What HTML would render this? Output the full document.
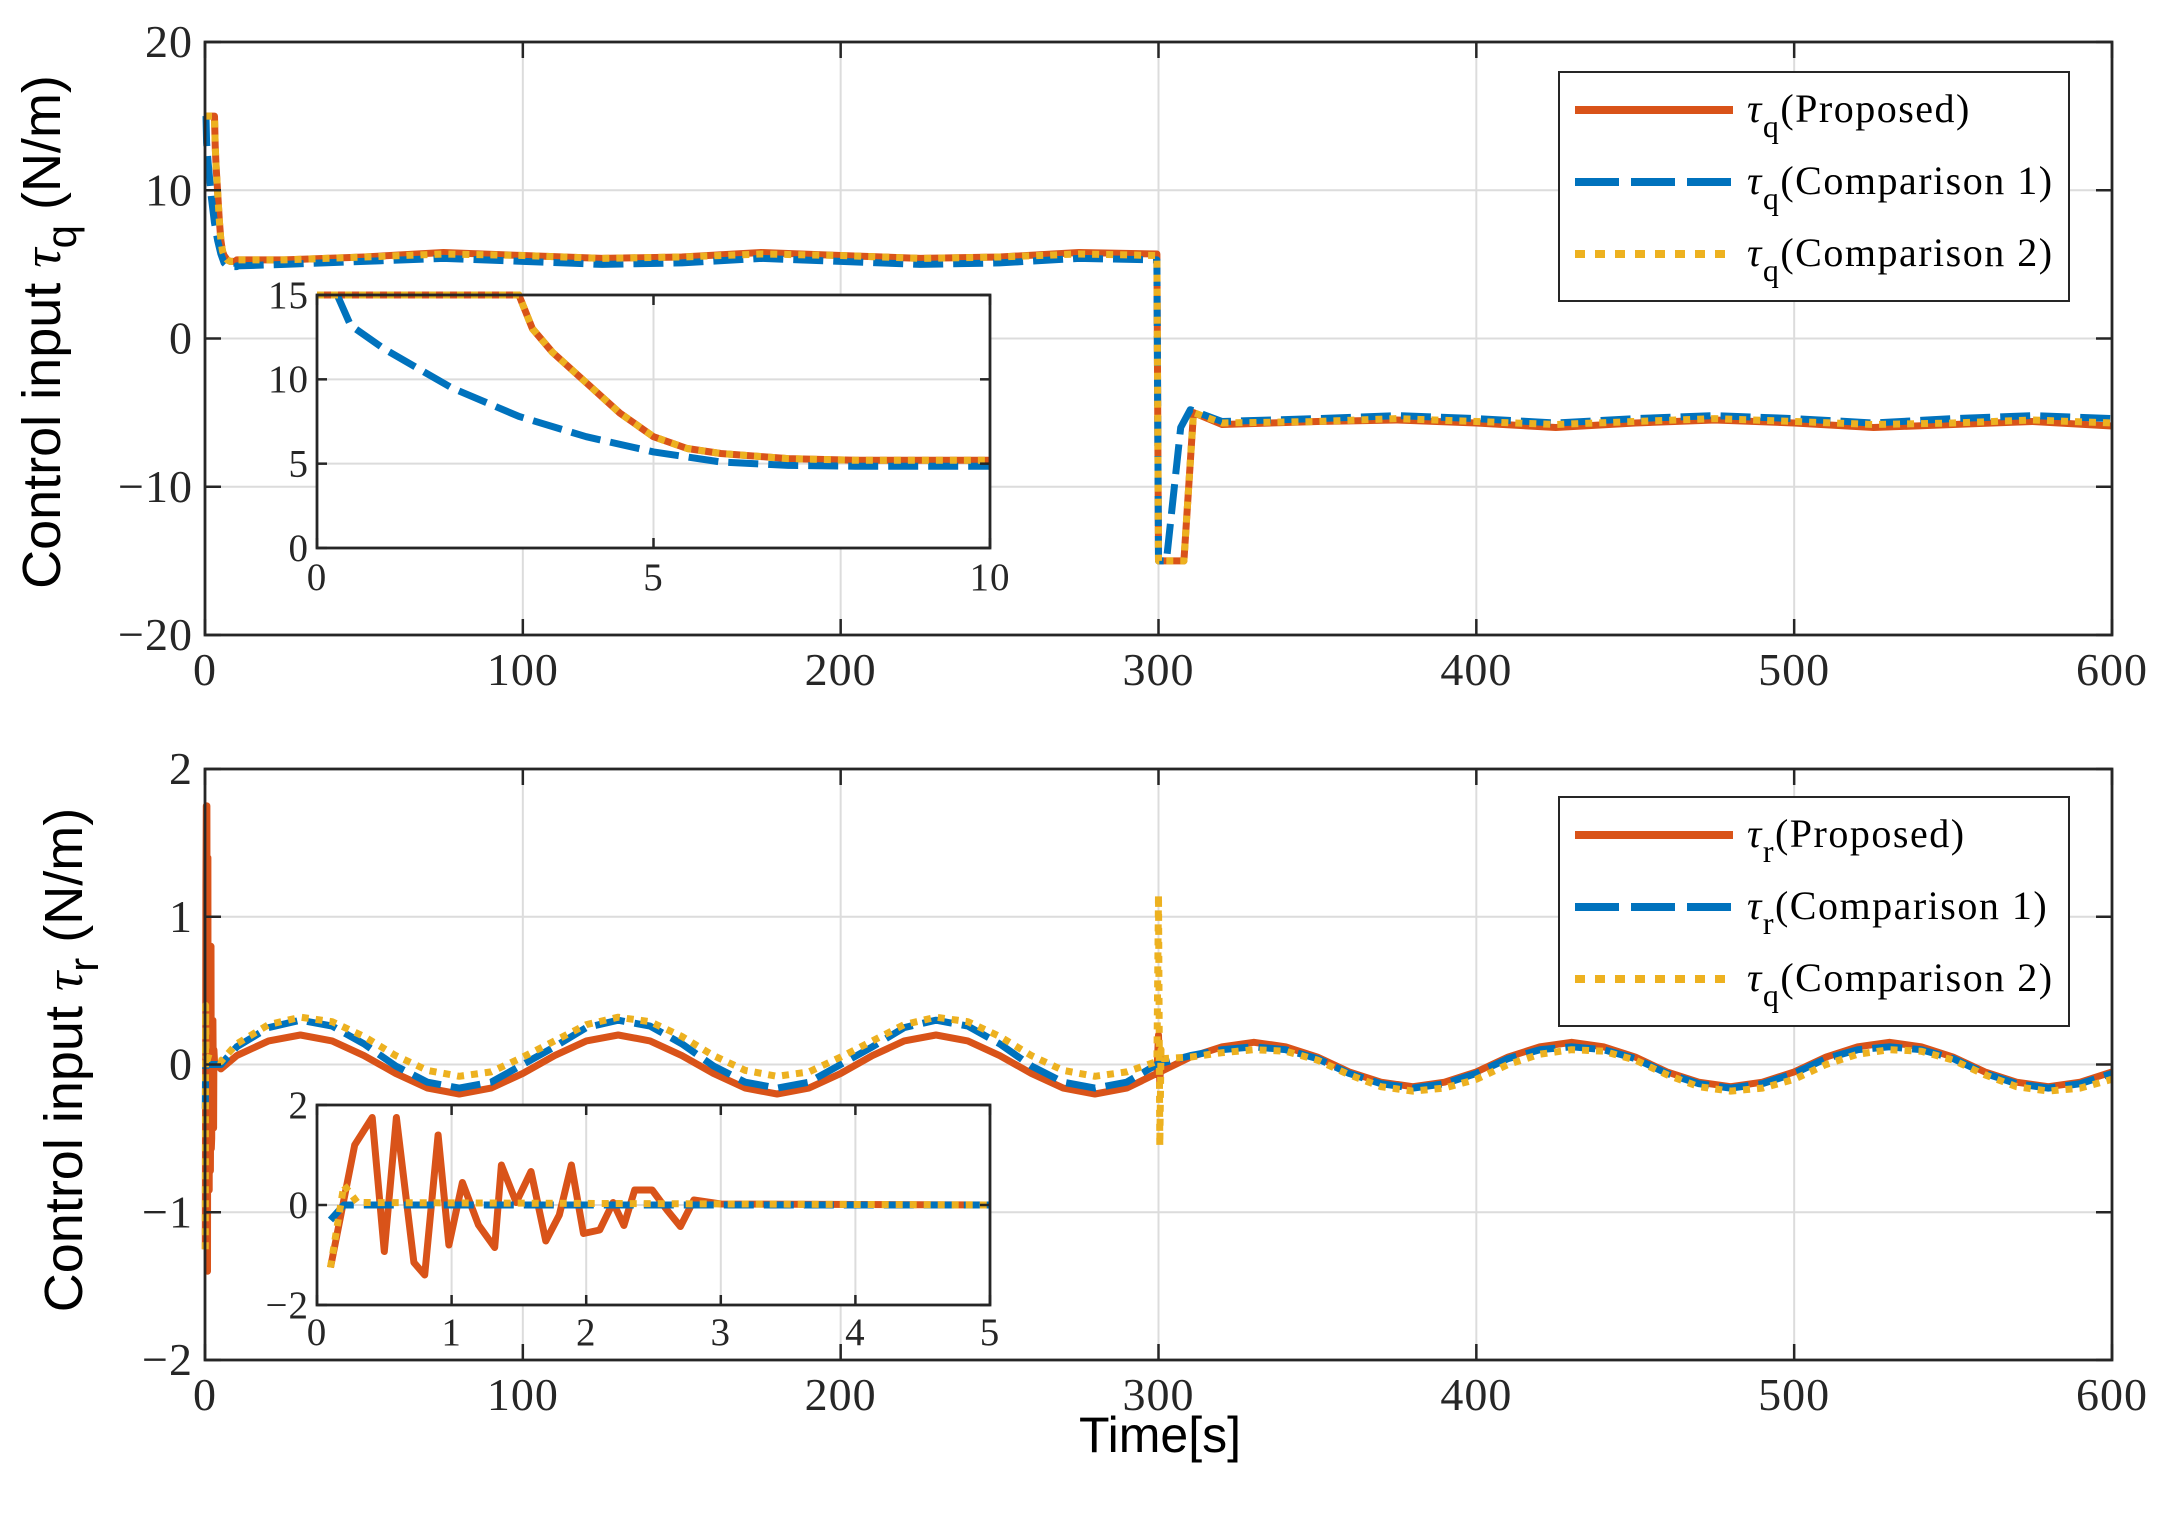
<!DOCTYPE html>
<html><head><meta charset="utf-8"><style>
html,body{margin:0;padding:0;background:#fff;}
svg{display:block;}
text{font-family:"Liberation Serif",serif;}
</style></head><body>
<svg id="chart" width="2165" height="1514" viewBox="0 0 2165 1514" xmlns="http://www.w3.org/2000/svg">
<rect x="0" y="0" width="2165" height="1514" fill="#fff"/>
<g id="root"></g>
</svg>
<script>
// ---------- DATA ----------
const qInsetPropT = [0, 3, 3.2, 3.5, 4, 4.5, 5, 5.5, 6, 7, 8, 10];
const qInsetPropV = [15, 15, 13, 11.6, 9.8, 8.0, 6.6, 5.9, 5.6, 5.3, 5.2, 5.2];
const qInsetC1T = [0.3, 0.5, 1, 2, 3, 4, 5, 6, 7, 8, 10];
const qInsetC1V = [15, 13.2, 11.8, 9.5, 7.8, 6.6, 5.7, 5.1, 4.9, 4.85, 4.85];
const qMainPropT = [10, 25, 50, 75, 100, 125, 150, 175, 200, 225, 250, 275, 299.5, 300, 308, 311, 320, 350, 375, 400, 425, 450, 475, 500, 525, 550, 575, 600];
const qMainPropV = [5.3, 5.3, 5.5, 5.8, 5.6, 5.4, 5.5, 5.8, 5.6, 5.4, 5.5, 5.8, 5.7, -15, -15, -5, -5.8, -5.6, -5.5, -5.7, -6, -5.7, -5.5, -5.7, -6, -5.8, -5.6, -5.9];
const qMainC1T = [10, 25, 50, 75, 100, 125, 150, 175, 200, 225, 250, 275, 299.5, 300, 302.5, 307, 310, 320, 350, 375, 400, 425, 450, 475, 500, 525, 550, 575, 600];
const qMainC1V = [4.9, 5.0, 5.2, 5.4, 5.2, 5.0, 5.1, 5.4, 5.2, 5.0, 5.1, 5.4, 5.3, -15, -15, -6, -4.8, -5.6, -5.4, -5.2, -5.4, -5.7, -5.4, -5.2, -5.4, -5.7, -5.4, -5.2, -5.4];
const qMainC2T = qMainPropT;
const qMainC2V = [5.3, 5.3, 5.5, 5.7, 5.6, 5.4, 5.5, 5.7, 5.6, 5.4, 5.5, 5.7, 5.6, -15, -15, -5, -5.7, -5.6, -5.4, -5.6, -5.8, -5.6, -5.4, -5.6, -5.8, -5.7, -5.5, -5.7];

const rInsetPropT = [0.1, 0.28, 0.41, 0.5, 0.59, 0.72, 0.8, 0.9, 0.98, 1.08, 1.2, 1.32, 1.37, 1.48, 1.59, 1.7, 1.8, 1.89, 1.98, 2.1, 2.2, 2.28, 2.36, 2.49, 2.6, 2.7, 2.8, 3.0, 5];
const rInsetPropV = [-1.25, 1.2, 1.75, -0.93, 1.75, -1.15, -1.4, 1.4, -0.8, 0.45, -0.4, -0.85, 0.8, 0.05, 0.67, -0.72, -0.2, 0.8, -0.57, -0.5, 0.05, -0.41, 0.3, 0.3, -0.1, -0.43, 0.1, 0.02, 0];
const rInsetC1T = [0.1, 0.2, 5];
const rInsetC1V = [-0.3, 0, 0];
const rInsetC2T = [0.1, 0.2, 0.3, 5];
const rInsetC2V = [-1.25, 0.4, 0.05, 0];
const rMainT = [5, 10, 20, 30, 40, 50, 60, 70, 80, 90, 100, 110, 120, 130, 140, 150, 160, 170, 180, 190, 200, 210, 220, 230, 240, 250, 260, 270, 280, 290, 299.5, 310, 320, 330, 340, 350, 360, 370, 380, 390, 400, 410, 420, 430, 440, 450, 460, 470, 480, 490, 500, 510, 520, 530, 540, 550, 560, 570, 580, 590, 600];
const rMainPropV = [-0.03, 0.06, 0.16, 0.2, 0.16, 0.06, -0.06, -0.16, -0.2, -0.16, -0.06, 0.06, 0.16, 0.2, 0.16, 0.06, -0.06, -0.16, -0.2, -0.16, -0.06, 0.06, 0.16, 0.2, 0.16, 0.06, -0.06, -0.16, -0.2, -0.16, -0.06, 0.05, 0.12, 0.15, 0.12, 0.05, -0.05, -0.12, -0.15, -0.12, -0.05, 0.05, 0.12, 0.15, 0.12, 0.05, -0.05, -0.12, -0.15, -0.12, -0.05, 0.05, 0.12, 0.15, 0.12, 0.05, -0.05, -0.12, -0.15, -0.12, -0.05];
const rMainC1V = [0.0, 0.12, 0.25, 0.3, 0.26, 0.14, -0.01, -0.12, -0.16, -0.12, 0.0, 0.12, 0.25, 0.3, 0.26, 0.14, -0.01, -0.12, -0.16, -0.12, 0.0, 0.12, 0.25, 0.3, 0.26, 0.14, -0.01, -0.12, -0.16, -0.12, 0.0, 0.06, 0.1, 0.12, 0.1, 0.04, -0.06, -0.13, -0.16, -0.13, -0.06, 0.04, 0.1, 0.12, 0.1, 0.04, -0.06, -0.13, -0.16, -0.13, -0.06, 0.04, 0.1, 0.12, 0.1, 0.04, -0.06, -0.13, -0.16, -0.13, -0.06];
const rMainC2V = [0.02, 0.14, 0.27, 0.32, 0.29, 0.19, 0.06, -0.04, -0.08, -0.05, 0.05, 0.16, 0.27, 0.32, 0.29, 0.19, 0.06, -0.04, -0.08, -0.05, 0.05, 0.16, 0.27, 0.32, 0.29, 0.19, 0.06, -0.04, -0.08, -0.05, 0.02, 0.05, 0.08, 0.1, 0.09, 0.03, -0.07, -0.15, -0.18, -0.16, -0.1, 0.0, 0.07, 0.1, 0.09, 0.03, -0.07, -0.15, -0.18, -0.16, -0.1, 0.0, 0.07, 0.1, 0.09, 0.03, -0.07, -0.15, -0.18, -0.16, -0.1];
const rSpikeT = [299.5, 300, 300.4, 300.8, 301.5];
const rSpikeC2V = [0.02, 1.15, -0.55, 0.1, 0.04];
const rSpikePropV = [-0.06, 0.2, -0.12, 0.05, -0.04];

const xTicksMain = [0, 100, 200, 300, 400, 500, 600];
const yTicksTop = [-20, -10, 0, 10, 20];
const yTicksBot = [-2, -1, 0, 1, 2];
const xTicksInsetTop = [0, 5, 10];
const yTicksInsetTop = [0, 5, 10, 15];
const xTicksInsetBot = [0, 1, 2, 3, 4, 5];
const yTicksInsetBot = [-2, 0, 2];

// ---------- DRAWING ----------
const NS = "http://www.w3.org/2000/svg";
const root = document.getElementById('root');
const RED = "#D95319", BLUE = "#0072BD", YEL = "#EDB120";
function el(tag, attrs, parent) {
  const e = document.createElementNS(NS, tag);
  for (const k in attrs) e.setAttribute(k, attrs[k]);
  (parent || root).appendChild(e);
  return e;
}
function makeAxes(px0, px1, py0, py1, xmin, xmax, ymin, ymax) {
  return {
    x: v => px0 + (v - xmin) / (xmax - xmin) * (px1 - px0),
    y: v => py1 - (v - ymin) / (ymax - ymin) * (py1 - py0),
    px0, px1, py0, py1
  };
}
function frame(ax, xt, yt, name) {
  const g = el('g', {});
  
  
  el('rect', {x: ax.px0, y: ax.py0, width: ax.px1 - ax.px0, height: ax.py1 - ax.py0, fill: '#fff'}, g);
  xt.forEach(v => {
    const x = ax.x(v);
    const l = el('line', {x1: x, x2: x, y1: ax.py0, y2: ax.py1, stroke: '#dcdcdc', 'stroke-width': 2}, g);
    
    
  });
  yt.forEach(v => {
    const y = ax.y(v);
    const l = el('line', {x1: ax.px0, x2: ax.px1, y1: y, y2: y, stroke: '#dcdcdc', 'stroke-width': 2}, g);
    
    
  });
  return g;
}
function frameTop(ax, xt, yt, fs, tickLen, xlabOff, ylabOff) {
  const g = el('g', {});
  
  
  xt.forEach(v => {
    const x = ax.x(v);
    el('line', {x1: x, x2: x, y1: ax.py1, y2: ax.py1 - tickLen, stroke: '#262626', 'stroke-width': 2.5}, g);
    el('line', {x1: x, x2: x, y1: ax.py0, y2: ax.py0 + tickLen, stroke: '#262626', 'stroke-width': 2.5}, g);
    const t = el('text', {x: x, y: ax.py1 + xlabOff, 'font-size': fs, 'text-anchor': 'middle', fill: '#262626', 'letter-spacing': 1}, g);
    t.textContent = v < 0 ? '\u2212' + Math.abs(v) : String(v);
    
    
  });
  yt.forEach(v => {
    const y = ax.y(v);
    el('line', {x1: ax.px0, x2: ax.px0 + tickLen, y1: y, y2: y, stroke: '#262626', 'stroke-width': 2.5}, g);
    el('line', {x1: ax.px1, x2: ax.px1 - tickLen, y1: y, y2: y, stroke: '#262626', 'stroke-width': 2.5}, g);
    const t = el('text', {x: ax.px0 - ylabOff, y: y + fs * 0.33, 'font-size': fs, 'text-anchor': 'end', fill: '#262626', 'letter-spacing': 1}, g);
    t.textContent = v < 0 ? '\u2212' + Math.abs(v) : String(v);
    
    
  });
  el('rect', {x: ax.px0, y: ax.py0, width: ax.px1 - ax.px0, height: ax.py1 - ax.py0, fill: 'none', stroke: '#262626', 'stroke-width': 2.8}, g);
}
function series(ax, T, V, color, dash, name, clip) {
  const d = T.map((t, i) => (i ? 'L' : 'M') + ax.x(t).toFixed(1) + ',' + ax.y(V[i]).toFixed(1)).join(' ');
  const attrs = {d: d, fill: 'none', stroke: color, 'stroke-width': 7, 'stroke-linejoin': 'round'};
  if (dash) attrs['stroke-dasharray'] = dash;
  if (clip) attrs['clip-path'] = clip;
  const p = el('path', attrs);
  
  
  return p;
}
const DASH_C1 = "30,10";
const DASH_C2 = "7,7";

const A1 = makeAxes(205, 2112, 42, 635, 0, 600, -20, 20);
frame(A1, xTicksMain, [-10, 0, 10], 'top-plot-grid');
series(A1, qInsetPropT.concat(qMainPropT), qInsetPropV.concat(qMainPropV), RED, null, 'tau-q-proposed-line');
series(A1, qInsetC1T.concat(qMainC1T), qInsetC1V.concat(qMainC1V), BLUE, DASH_C1, 'tau-q-comparison1-line');
series(A1, qInsetPropT.concat(qMainC2T), qInsetPropV.concat(qMainC2V), YEL, DASH_C2, 'tau-q-comparison2-line');
frameTop(A1, xTicksMain, yTicksTop, 46, 16, 50, 12);

const I1 = makeAxes(317, 990, 295, 548, 0, 10, 0, 15);
el('defs', {}).innerHTML = '<clipPath id="c1"><rect x="317" y="280" width="673" height="268"/></clipPath><clipPath id="c2"><rect x="317" y="1105" width="673" height="200"/></clipPath>';
frame(I1, xTicksInsetTop, [5, 10], 'top-inset-grid');
series(I1, qInsetPropT, qInsetPropV, RED, null, 'inset-tau-q-proposed-line', 'url(#c1)');
series(I1, qInsetC1T, qInsetC1V, BLUE, DASH_C1, 'inset-tau-q-comparison1-line', 'url(#c1)');
series(I1, qInsetPropT, qInsetPropV, YEL, DASH_C2, 'inset-tau-q-comparison2-line', 'url(#c1)');
frameTop(I1, xTicksInsetTop, yTicksInsetTop, 39, 10, 42, 8);

const A2 = makeAxes(205, 2112, 769, 1360, 0, 600, -2, 2);
frame(A2, xTicksMain, [-1, 0, 1], 'bottom-plot-grid');
const botRedT = rInsetPropT.slice(0, 28).concat(rMainT.slice(0, 30), rSpikeT, rMainT.slice(31));
const botRedV = rInsetPropV.slice(0, 28).concat(rMainPropV.slice(0, 30), rSpikePropV, rMainPropV.slice(31));
series(A2, botRedT, botRedV, RED, null, 'tau-r-proposed-line');
series(A2, rInsetC1T.slice(0, 2).concat(rMainT), rInsetC1V.slice(0, 2).concat(rMainC1V), BLUE, DASH_C1, 'tau-r-comparison1-line');
const botYT = rInsetC2T.slice(0, 3).concat(rMainT.slice(0, 30), rSpikeT, rMainT.slice(31));
const botYV = rInsetC2V.slice(0, 3).concat(rMainC2V.slice(0, 30), rSpikeC2V, rMainC2V.slice(31));
series(A2, botYT, botYV, YEL, DASH_C2, 'tau-r-comparison2-line');
frameTop(A2, xTicksMain, yTicksBot, 46, 16, 50, 12);

const I2 = makeAxes(317, 990, 1105, 1305, 0, 5, -2, 2);
frame(I2, xTicksInsetBot, [0], 'bottom-inset-grid');
series(I2, rInsetPropT, rInsetPropV, RED, null, 'inset-tau-r-proposed-line', 'url(#c2)');
series(I2, rInsetC1T, rInsetC1V, BLUE, DASH_C1, 'inset-tau-r-comparison1-line', 'url(#c2)');
series(I2, rInsetC2T, rInsetC2V, YEL, DASH_C2, 'inset-tau-r-comparison2-line', 'url(#c2)');
frameTop(I2, xTicksInsetBot, yTicksInsetBot, 39, 10, 40, 8);

function legend(x0, y0, w, h, sub, name) {
  const g = el('g', {});
  
  
  el('rect', {x: x0, y: y0, width: w, height: h, fill: '#fff', stroke: '#262626', 'stroke-width': 2}, g);
  const labels = ['(Proposed)', '(Comparison 1)', '(Comparison 2)'];
  const cols = [RED, BLUE, YEL];
  const dashes = [null, "44,12", "10,10"];
  const rowY = [38, 110, 182];
  labels.forEach((lb, i) => {
    const y = y0 + rowY[i];
    const a = {x1: x0 + 16, x2: x0 + 174, y1: y, y2: y, stroke: cols[i], 'stroke-width': 8};
    if (dashes[i]) a['stroke-dasharray'] = dashes[i];
    const ln = el('line', a, g);
    
    
    const t = el('text', {x: x0 + 188, y: y + 12, 'font-size': 40, fill: '#000', 'letter-spacing': 1.5}, g);
    t.innerHTML = '<tspan font-style="italic">\u03C4</tspan><tspan font-size="32" dy="15">' + sub[i] + '</tspan><tspan dy="-15">' + lb + '</tspan>';
    
    
  });
}
legend(1559, 72, 510, 229, ['q', 'q', 'q'], 'top-legend');
legend(1559, 797, 510, 229, ['r', 'r', 'q'], 'bottom-legend');

function ylab(cx, cy, sub, name) {
  const t = el('text', {transform: 'translate(' + cx + ',' + cy + ') rotate(-90)', 'text-anchor': 'middle', 'font-size': 54, fill: '#000', style: 'font-family:"Liberation Sans",sans-serif'});
  t.innerHTML = 'Control input <tspan font-style="italic" style="font-family:\'Liberation Serif\',serif">\u03C4</tspan><tspan font-size="42" dy="16">' + sub + '</tspan><tspan dy="-16"> (N/m)</tspan>';
  
  
}
ylab(60, 332, 'q', 'top-y-axis-title');
ylab(82, 1060, 'r', 'bottom-y-axis-title');
const xl = el('text', {x: 1160, y: 1452, 'text-anchor': 'middle', 'font-size': 50, fill: '#000', style: 'font-family:"Liberation Sans",sans-serif'});
xl.textContent = 'Time[s]';


</script>
</body></html>
